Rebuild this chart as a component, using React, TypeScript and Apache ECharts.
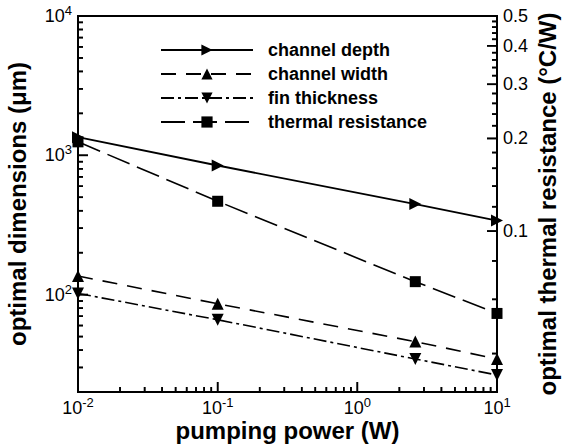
import React, { useEffect, useRef } from 'react';
import * as echarts from 'echarts';

// ---- data ----
const pumpingPower = [0.01, 0.1, 2.6, 10]; // W
const channelDepth = [1350, 845, 447, 340]; // um
const channelWidth = [136, 86, 46, 34.5]; // um
const finThickness = [102, 66, 34.5, 26.5]; // um
const thermalResistance = [0.195, 0.125, 0.0685, 0.054]; // C/W

const seriesNames = ['channel depth', 'channel width', 'fin thickness', 'thermal resistance'];

// axis ranges and ticks (raw values)
const xRange = [0.01, 10];
const leftRange = [20, 10000];
const rightRange = [0.03, 0.5];
const xMajorTicks = [0.01, 0.1, 1, 10];
const xMinorTicks = [0.02, 0.03, 0.04, 0.05, 0.06, 0.07, 0.08, 0.09, 0.2, 0.3, 0.4, 0.5, 0.6, 0.7, 0.8, 0.9, 2, 3, 4, 5, 6, 7, 8, 9];
const leftMajorTicks = [100, 1000, 10000];
const leftMinorTicks = [30, 40, 50, 60, 70, 80, 90, 200, 300, 400, 500, 600, 700, 800, 900, 2000, 3000, 4000, 5000, 6000, 7000, 8000, 9000];
const rightMajorTicks = [0.1, 0.2, 0.3, 0.4, 0.5];
const rightMinorTicks = [0.04, 0.06, 0.08, 0.12, 0.14, 0.16, 0.18, 0.22, 0.24, 0.26, 0.28, 0.32, 0.34, 0.36, 0.38, 0.42, 0.44, 0.46, 0.48];

const FONT = "'Liberation Sans', Arial, Helvetica, sans-serif";
const lg = (v: number) => Math.log10(v);
const makeData = (ys: number[]) => pumpingPower.map((x, i) => [lg(x), lg(ys[i])]);
const MAJOR_LEN = 10;
const MINOR_LEN = 5;
const TICK_W = 1.6;

const axisLineStyle = { color: '#000', width: 2 };
const supRich = { sup: { fontSize: 13, fontFamily: FONT, color: '#000', verticalAlign: 'top', lineHeight: 13 } };

// inward log-scale tick marks as thin rect symbols, placed through the axes' scales
const tickSeries = (kind: 'x' | 'left' | 'right', ticks: number[], len: number, idx: number) => ({
  name: 'tick' + idx,
  type: 'scatter',
  xAxisIndex: 0,
  yAxisIndex: kind === 'right' ? 1 : 0,
  clip: false,
  z: 10,
  symbol: 'rect',
  symbolSize: kind === 'x' ? [TICK_W, len] : [len, TICK_W],
  symbolOffset: kind === 'x' ? [0, -len / 2] : kind === 'left' ? [len / 2, 0] : [-len / 2, 0],
  itemStyle: { color: '#000', opacity: 1 },
  data: ticks.map((v) =>
    kind === 'x' ? [lg(v), lg(leftRange[0])] : kind === 'left' ? [lg(xRange[0]), lg(v)] : [lg(xRange[1]), lg(v)]
  ),
});

export default function App() {
  const ref = useRef<HTMLDivElement>(null);
  useEffect(() => {
    if (!ref.current) return;
    const chart = echarts.init(ref.current, null, { renderer: 'svg' });
    const powLabel = (v: number) => `10{sup|${Math.round(v)}}`;

    const option: any = {
      animation: false,
      backgroundColor: '#fff',
      grid: {
        left: 78, right: 80, top: 16, bottom: 54,
        show: true, borderColor: '#000', borderWidth: 2, backgroundColor: 'transparent',
        containLabel: false, outerBoundsMode: 'none',
      },
      legend: {
        orient: 'vertical', left: 160, top: 41, padding: 0,
        itemWidth: 92, itemHeight: 14, itemGap: 6,
        data: seriesNames,
        selectedMode: false,
        textStyle: { fontFamily: FONT, fontWeight: 'bold', fontSize: 18, color: '#000', padding: [0, 0, 0, 10] },
      },
      xAxis: [
        {
          type: 'value', position: 'bottom', min: lg(xRange[0]), max: lg(xRange[1]), interval: 1,
          name: 'pumping power (W)', nameLocation: 'middle', nameGap: 26, nameMoveOverlap: false,
          nameTextStyle: { fontFamily: FONT, fontWeight: 'bold', fontSize: 24, color: '#000' },
          axisLine: { show: true, onZero: false, lineStyle: axisLineStyle },
          axisTick: { show: false },
          axisLabel: { show: true, margin: 4, color: '#000', fontFamily: FONT, fontSize: 18, lineHeight: 24, formatter: powLabel, rich: supRich },
          splitLine: { show: false },
        },
      ],
      yAxis: [
        {
          type: 'value', position: 'left', min: lg(leftRange[0]), max: lg(leftRange[1]),
          name: 'optimal dimensions (\u03bcm)', nameLocation: 'middle', nameGap: 49, nameMoveOverlap: false,
          nameTextStyle: { fontFamily: FONT, fontWeight: 'bold', fontSize: 24, color: '#000' },
          axisLine: { show: true, onZero: false, lineStyle: axisLineStyle },
          axisTick: { show: false },
          axisLabel: { show: true, margin: 6, color: '#000', fontFamily: FONT, fontSize: 18, lineHeight: 24, customValues: leftMajorTicks.map(lg), formatter: powLabel, rich: supRich },
          splitLine: { show: false },
        },
        {
          type: 'value', position: 'right', min: lg(rightRange[0]), max: lg(rightRange[1]),
          name: 'optimal thermal resistance (\u00b0C/W)', nameLocation: 'middle', nameGap: 38, nameMoveOverlap: false,
          nameTextStyle: { fontFamily: FONT, fontWeight: 'bold', fontSize: 24, color: '#000' },
          axisLine: { show: true, onZero: false, lineStyle: axisLineStyle },
          axisTick: { show: false },
          axisLabel: {
            show: true, margin: 6, color: '#000', fontFamily: FONT, fontSize: 18,
            customValues: rightMajorTicks.map(lg),
            formatter: (v: number) => (Math.round(Math.pow(10, v) * 10) / 10).toFixed(1),
          },
          splitLine: { show: false },
        },
      ],
      series: [
        tickSeries('x', xMajorTicks, MAJOR_LEN, 0),
        tickSeries('x', xMinorTicks, MINOR_LEN, 1),
        tickSeries('left', leftMajorTicks, MAJOR_LEN, 2),
        tickSeries('left', leftMinorTicks, MINOR_LEN, 3),
        tickSeries('right', rightMajorTicks, MAJOR_LEN, 4),
        tickSeries('right', rightMinorTicks, MINOR_LEN, 5),
        {
          name: seriesNames[0], type: 'line', xAxisIndex: 0, yAxisIndex: 0, data: makeData(channelDepth),
          symbol: 'triangle', symbolSize: 12, symbolRotate: -90, showAllSymbol: true, clip: false, z: 5,
          lineStyle: { color: '#000', width: 1.8, type: 'solid' }, itemStyle: { color: '#000' },
        },
        {
          name: seriesNames[1], type: 'line', xAxisIndex: 0, yAxisIndex: 0, data: makeData(channelWidth),
          symbol: 'triangle', symbolSize: 12, showAllSymbol: true, clip: false, z: 5,
          lineStyle: { color: '#000', width: 1.6, type: [15, 10] }, itemStyle: { color: '#000' },
        },
        {
          name: seriesNames[2], type: 'line', xAxisIndex: 0, yAxisIndex: 0, data: makeData(finThickness),
          symbol: 'triangle', symbolSize: 12, symbolRotate: 180, showAllSymbol: true, clip: false, z: 5,
          lineStyle: { color: '#000', width: 1.6, type: [13, 4, 3, 4] }, itemStyle: { color: '#000' },
        },
        {
          name: seriesNames[3], type: 'line', xAxisIndex: 0, yAxisIndex: 1, data: makeData(thermalResistance),
          symbol: 'rect', symbolSize: 11, showAllSymbol: true, clip: false, z: 5,
          lineStyle: { color: '#000', width: 1.6, type: [24, 8] }, itemStyle: { color: '#000' },
        },
      ],
    };
    chart.setOption(option);

    // same tick marks also as graphic rects, positioned through the chart's own axis scales
    const toPx = (yIdx: number, x: number, y: number) =>
      chart.convertToPixel({ xAxisIndex: 0, yAxisIndex: yIdx } as any, [x, y]) as number[];
    const els: any[] = [];
    const addX = (ticks: number[], len: number) => ticks.forEach((v) => {
      const p = toPx(0, lg(v), lg(leftRange[0]));
      els.push({ type: 'rect', shape: { x: p[0] - TICK_W / 2, y: p[1] - len, width: TICK_W, height: len }, style: { fill: '#000' }, z: 100 });
    });
    const addY = (yIdx: number, xv: number, dir: number, ticks: number[], len: number) => ticks.forEach((v) => {
      const p = toPx(yIdx, xv, lg(v));
      const x0 = dir > 0 ? p[0] : p[0] - len;
      els.push({ type: 'rect', shape: { x: x0, y: p[1] - TICK_W / 2, width: len, height: TICK_W }, style: { fill: '#000' }, z: 100 });
    });
    addX(xMajorTicks, MAJOR_LEN);
    addX(xMinorTicks, MINOR_LEN);
    addY(0, lg(xRange[0]), 1, leftMajorTicks, MAJOR_LEN);
    addY(0, lg(xRange[0]), 1, leftMinorTicks, MINOR_LEN);
    addY(1, lg(xRange[1]), -1, rightMajorTicks, MAJOR_LEN);
    addY(1, lg(xRange[1]), -1, rightMinorTicks, MINOR_LEN);
    chart.setOption({ graphic: { elements: els } });

    return () => chart.dispose();
  }, []);
  return <div ref={ref} style={{ position: 'fixed', left: 0, top: 0, width: 577, height: 446, background: '#fff' }} />;
}
